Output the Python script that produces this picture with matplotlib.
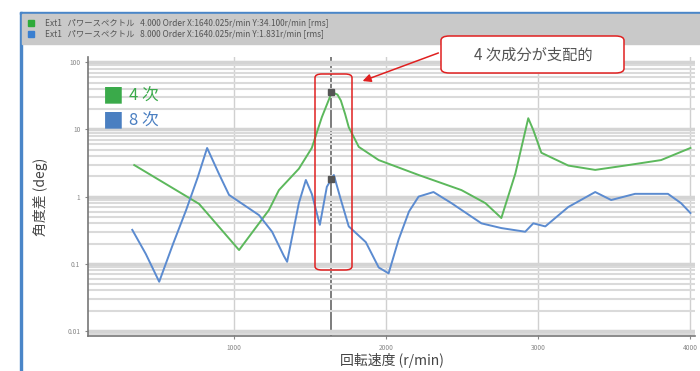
import matplotlib.pyplot as plt
from matplotlib.patches import Rectangle, FancyBboxPatch

plt.rcParams['font.family'] = ['Noto Sans CJK JP', 'DejaVu Sans']

# 4th order (green), rpm vs deg
rpm4 = [344, 770, 1033, 1229, 1295, 1426, 1511, 1577, 1643, 1680, 1702, 1730, 1754, 1820, 1951,
        2213, 2495, 2652, 2757, 2849, 2934, 2967, 3020, 3197, 3374, 3570, 3807, 4000]
val4 = [2.95, 0.78, 0.16, 0.63, 1.25, 2.6, 5.3, 15.2, 36, 33, 27, 17, 10.8, 5.5, 3.5,
        2.1, 1.25, 0.8, 0.48, 2.2, 14.7, 9.8, 4.5, 2.9, 2.5, 2.9, 3.5, 5.3]

# 8th order (blue)
rpm8 = [331, 420, 508, 600, 685, 760, 823, 900, 967, 1164, 1250, 1328, 1349, 1426, 1472,
        1511, 1564, 1610, 1656, 1702, 1754, 1866, 1951, 2016, 2082, 2150, 2213, 2311,
        2429, 2626, 2757, 2914, 2967, 3046, 3197, 3374, 3479, 3636, 3852, 3938, 4000]
val8 = [0.32, 0.14, 0.054, 0.2, 0.63, 1.9, 5.3, 2.2, 1.06, 0.53, 0.3, 0.13, 0.107, 0.8, 1.77,
        1.1, 0.38, 1.4, 2.1, 0.9, 0.36, 0.21, 0.088, 0.072, 0.23, 0.6, 1.0, 1.17,
        0.8, 0.4, 0.34, 0.3, 0.4, 0.36, 0.7, 1.17, 0.89, 1.1, 1.1, 0.8, 0.57]

yticks = [0.01, 0.1, 1, 10, 100]
ytick_labels = ['0.01', '0.1', '1', '10', '100']
xticks = [1000, 2000, 3000, 4000]
cursor_rpm = 1640

header = ['Ext1   パワースペクトル   4.000 Order X:1640.025r/min Y:34.100r/min [rms]',
          'Ext1   パワースペクトル   8.000 Order X:1640.025r/min Y:1.831r/min [rms]']

green = '#5cb85c'
blue = '#5b8bd0'

fig = plt.figure(figsize=(7, 3.71), dpi=100)

def px(x, y, w, h, **kw):
    # rectangle in pixel coords measured from the top-left corner
    fig.patches.append(Rectangle((x/700, 1 - (y + h)/371), w/700, h/371,
                                 transform=fig.transFigure, **kw))

# window frame: blue left border, header strip
px(20, 12, 2, 359, color='#4a86c8', zorder=0)
px(20, 12, 680, 2, color='#4a86c8', zorder=0)
px(22, 14, 678, 30, color='#c9c9c9', zorder=0)
px(28, 20, 6, 6, color='#2eaa3a', zorder=1)
px(28, 31, 6, 6, color='#3a7fd0', zorder=1)
fig.text(45/700, 1 - 23/371, header[0], fontsize=6, color='#555555', va='center')
fig.text(45/700, 1 - 34/371, header[1], fontsize=6, color='#555555', va='center')

ax = fig.add_axes([88/700, 1 - 336/371, 607/700, 279/371])
ax.set_yscale('log')
ax.set_xlim(40, 4030)
ax.set_ylim(0.0084, 120)

ax.set_yticks(yticks)
ax.set_yticklabels(ytick_labels)
ax.set_xticks(xticks)
ax.set_xticklabels([str(t) for t in xticks])
ax.tick_params(axis='both', labelsize=4.8, colors='#888888', length=2)
ax.tick_params(axis='y', which='minor', length=0)

ax.grid(True, axis='y', which='major', color='#d4d4d4', lw=2.5, zorder=0)
ax.grid(True, axis='y', which='minor', color='#dadada', lw=1.5, zorder=0)
ax.grid(True, axis='x', which='major', color='#d0d0d0', lw=1, zorder=0)
ax.axvline(cursor_rpm, color='#666666', lw=1.2, zorder=1)

for s in ['top', 'right']:
    ax.spines[s].set_visible(False)
for s in ['left', 'bottom']:
    ax.spines[s].set_color('#777777')
    ax.spines[s].set_linewidth(1.2)

ax.plot(rpm4, val4, color=green, lw=1.4, zorder=3)
ax.plot(rpm8, val8, color=blue, lw=1.4, zorder=3)

# cursor markers
ax.plot([cursor_rpm], [36], 's', color='#555555', ms=4, zorder=4)
ax.plot([cursor_rpm], [1.831], 's', color='#555555', ms=4, zorder=4)

# in-plot legend
ax.text(0.025, 0.86, '■', transform=ax.transAxes, fontsize=15, color='#3aaa4a', va='center')
ax.text(0.068, 0.86, '4 次', transform=ax.transAxes, fontsize=12, color='#3aaa4a', va='center')
ax.text(0.025, 0.77, '■', transform=ax.transAxes, fontsize=15, color='#4a7fc1', va='center')
ax.text(0.068, 0.77, '8 次', transform=ax.transAxes, fontsize=12, color='#4a7fc1', va='center')

ax.set_ylabel('角度差 (deg)', fontsize=10, color='#444444', labelpad=14)
ax.set_xlabel('回転速度 (r/min)', fontsize=10, color='#444444', labelpad=1)

# highlight box around the peaks
fig.patches.append(FancyBboxPatch((315/700, 1 - 270/371), 37/700, 196/371,
                                  boxstyle='round,pad=0,rounding_size=0.01',
                                  transform=fig.transFigure, fill=False,
                                  ec='#e02020', lw=1.1, zorder=5))
# callout
fig.patches.append(FancyBboxPatch((441/700, 1 - 73/371), 183/700, 37/371,
                                  boxstyle='round,pad=0,rounding_size=0.012',
                                  transform=fig.transFigure, fc='white',
                                  ec='#e02020', lw=1.1, zorder=5))
fig.text(533/700, 1 - 55/371, '4 次成分が支配的', fontsize=11, color='#555555',
         ha='center', va='center', zorder=6)
ax.annotate('', xy=(360/700, 1 - 82/371), xytext=(441/700, 1 - 52/371),
            xycoords='figure fraction', textcoords='figure fraction',
            arrowprops=dict(arrowstyle='-|>', color='#e02020', lw=1.1, mutation_scale=12))

fig.savefig('out.png', dpi=100)
